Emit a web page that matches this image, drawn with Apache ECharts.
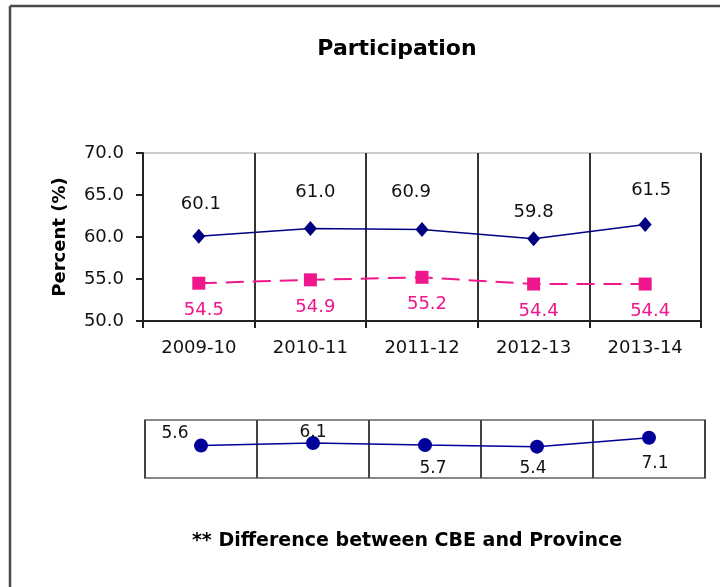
<!DOCTYPE html>
<html>
<head>
<meta charset="utf-8">
<script src="https://cdn.jsdelivr.net/npm/echarts@6/dist/echarts.min.js"></script>
<style>
  html, body { margin: 0; padding: 0; background: #fff; }
  #main { width: 720px; height: 587px; }
</style>
</head>
<body>
<div id="main"></div>
<script>
// data
var years = ['2009-10', '2010-11', '2011-12', '2012-13', '2013-14'];
var cbe = [60.1, 61.0, 60.9, 59.8, 61.5];
var province = [54.5, 54.9, 55.2, 54.4, 54.4];
var diff = [5.6, 6.1, 5.7, 5.4, 7.1];
var yTicks = [50, 55, 60, 65, 70];

var FONT = 'DejaVu Sans';
var BLUE = '#000080';
var PINK = '#f0168c';

// label nudges, the excel export put them a bit everywhere
var cbeLabelOff = [[2, -32], [5, -36], [-11, -37], [0, -26], [6, -34]];
var diffLabelOff = [[-26, -12], [0, -10], [8, 23], [-4, 22], [6, 26]];

function withLabels(values, offs, color, size) {
  return values.map(function (v, i) {
    return {
      value: v,
      label: {
        show: true, position: 'inside', offset: offs[i],
        color: color, fontFamily: FONT, fontSize: size,
        formatter: function (p) { return p.value.toFixed(1); }
      }
    };
  });
}

function drawChart() {
  var myChart = echarts.init(document.getElementById('main'));
  var option = {
    animation: false,
    backgroundColor: '#fff',
    graphic: [
      { type: 'line', shape: { x1: 10, y1: 6, x2: 10, y2: 587 }, style: { stroke: '#4a4a4a', lineWidth: 2.5 } },
      { type: 'line', shape: { x1: 10, y1: 6, x2: 720, y2: 6 }, style: { stroke: '#4a4a4a', lineWidth: 2.5 } },
      { type: 'text', x: 397, y: 49, style: { text: 'Participation', textAlign: 'center', textVerticalAlign: 'middle',
        font: 'bold 22px "' + FONT + '"', fill: '#000' } },
      { type: 'text', x: 407, y: 541, style: { text: '** Difference between CBE and Province', textAlign: 'center', textVerticalAlign: 'middle',
        font: 'bold 19px "' + FONT + '"', fill: '#000' } }
    ],
    grid: [
      { left: 143, top: 153, width: 558, height: 168, show: true, borderColor: '#999', borderWidth: 1 },
      { left: 145, top: 420, width: 560, height: 58, show: true, borderColor: '#888', borderWidth: 2 }
    ],
    xAxis: [
      {
        type: 'category', gridIndex: 0, data: years, boundaryGap: true,
        axisLine: { show: true, lineStyle: { color: '#222', width: 2 } },
        axisTick: { show: true, length: 7, lineStyle: { color: '#222', width: 2 } },
        axisLabel: { color: '#111', fontFamily: FONT, fontSize: 18, margin: 18 },
        splitLine: { show: true, lineStyle: { color: '#333', width: 2 } }
      },
      {
        type: 'category', gridIndex: 1, data: years, boundaryGap: true,
        axisLine: { show: false }, axisTick: { show: false }, axisLabel: { show: false },
        splitLine: { show: true, lineStyle: { color: '#444', width: 2 } }
      }
    ],
    yAxis: [
      {
        type: 'value', gridIndex: 0, min: yTicks[0], max: yTicks[yTicks.length - 1], interval: 5,
        name: 'Percent (%)', nameLocation: 'middle', nameRotate: 90, nameGap: 74,
        nameTextStyle: { color: '#000', fontFamily: FONT, fontSize: 18, fontWeight: 'bold' },
        axisLine: { show: true, lineStyle: { color: '#222', width: 2 } },
        axisTick: { show: true, length: 7, lineStyle: { color: '#222', width: 2 } },
        axisLabel: { color: '#111', fontFamily: FONT, fontSize: 18, margin: 19,
          formatter: function (v) { return v.toFixed(1); } },
        splitLine: { show: false }
      },
      {
        type: 'value', gridIndex: 1, min: -0.6, max: 10.5, show: false,
        splitLine: { show: false }
      }
    ],
    series: [
      {
        name: 'CBE', type: 'line', xAxisIndex: 0, yAxisIndex: 0,
        data: withLabels(cbe, cbeLabelOff, '#111', 18),
        symbol: 'diamond', symbolSize: [13, 15],
        itemStyle: { color: BLUE },
        lineStyle: { color: BLUE, width: 1.5 }
      },
      {
        name: 'Province', type: 'line', xAxisIndex: 0, yAxisIndex: 0,
        data: withLabels(province, province.map(function () { return [5, 27]; }), PINK, 18),
        symbol: 'rect', symbolSize: 13,
        itemStyle: { color: PINK },
        lineStyle: { color: PINK, width: 2, type: [18, 9] }
      },
      {
        name: 'Difference', type: 'line', xAxisIndex: 1, yAxisIndex: 1,
        data: withLabels(diff, diffLabelOff, '#111', 17),
        symbol: 'circle', symbolSize: 14,
        itemStyle: { color: '#000099' },
        lineStyle: { color: '#000099', width: 1.5 }
      }
    ]
  };
  myChart.setOption(option);
}

drawChart();
</script>
</body>
</html>
